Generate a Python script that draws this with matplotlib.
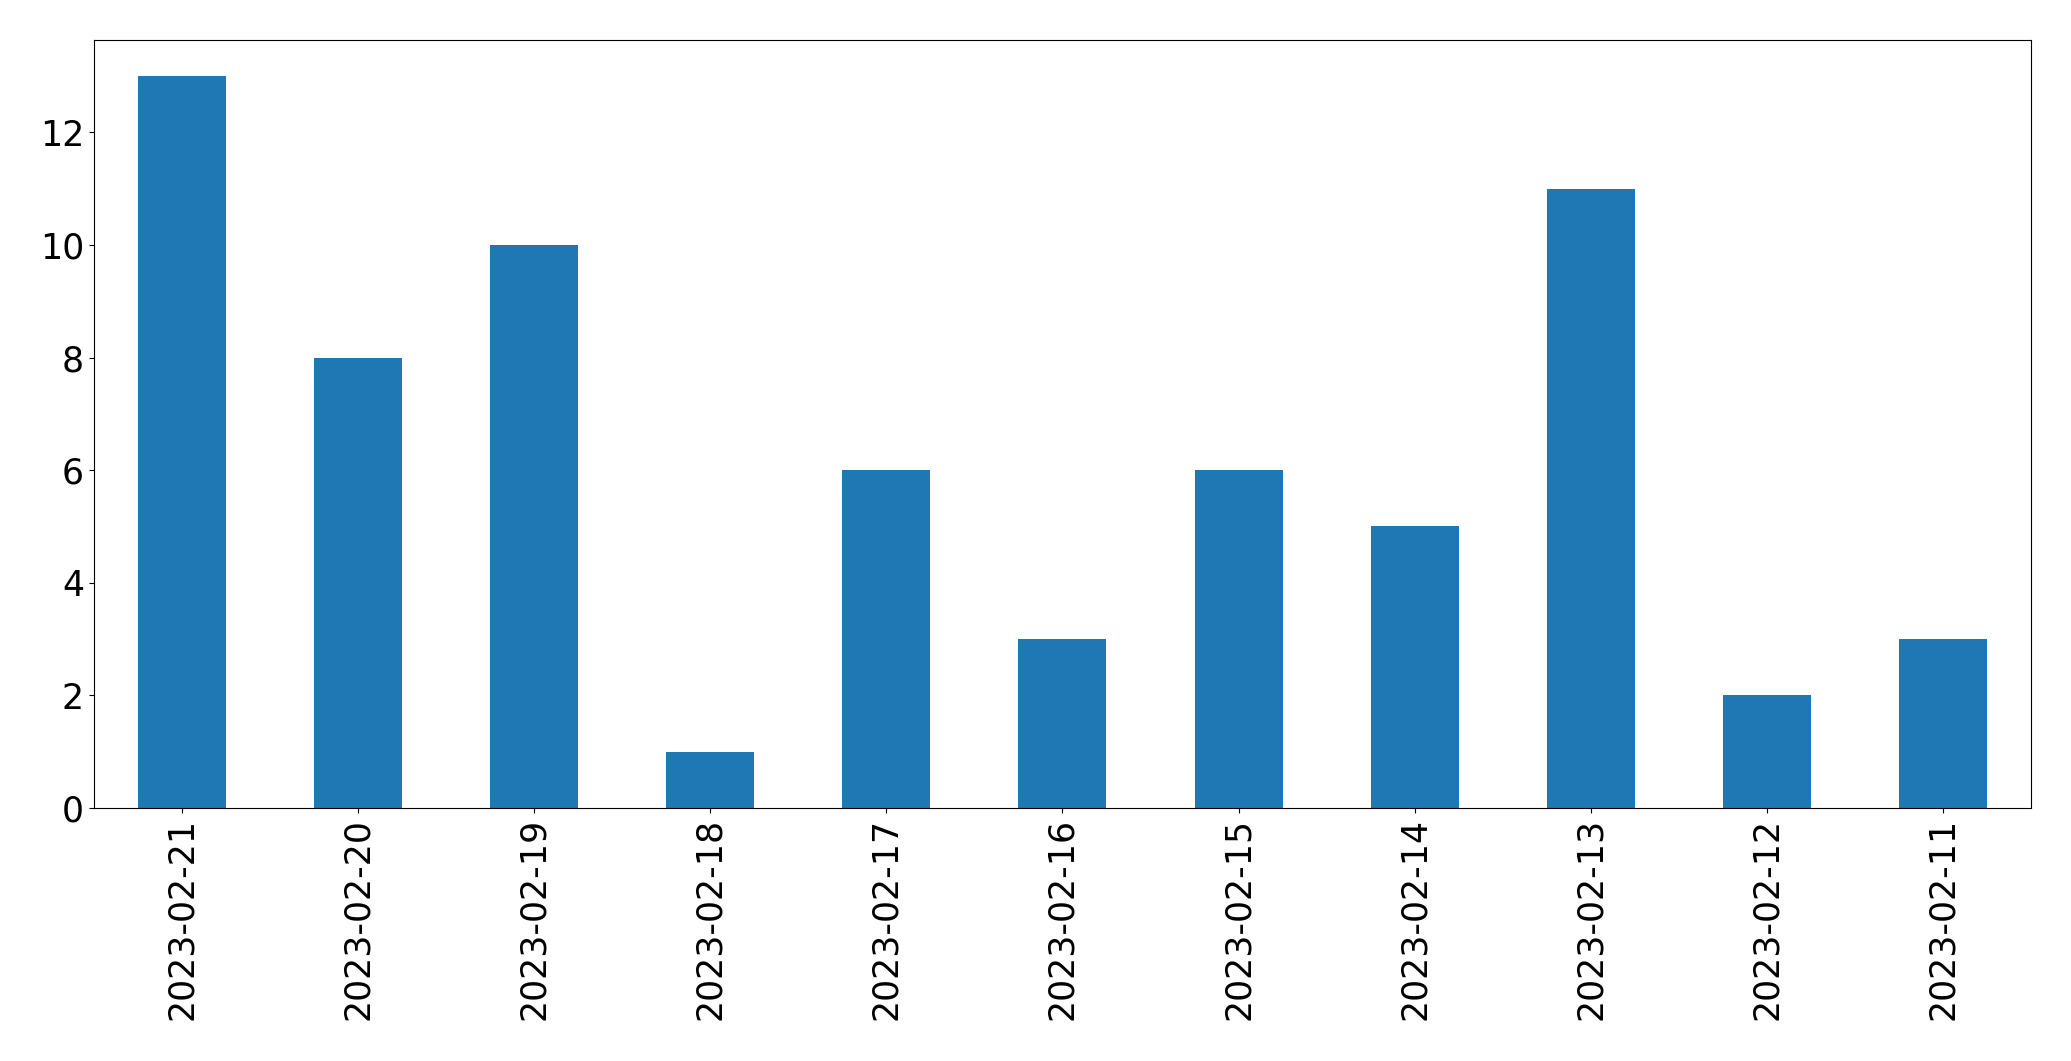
import matplotlib
matplotlib.use("Agg")
import matplotlib.pyplot as plt

dates = ["2023-02-21", "2023-02-20", "2023-02-19", "2023-02-18", "2023-02-17", "2023-02-16",
         "2023-02-15", "2023-02-14", "2023-02-13", "2023-02-12", "2023-02-11"]
counts = [13, 8, 10, 1, 6, 3, 6, 5, 11, 2, 3]

fig = plt.figure(figsize=(20.71, 10.61), dpi=100)
ax = fig.add_axes([0.0453, 0.2385, 0.9354, 0.7242])

x = range(len(dates))
ax.bar(x, counts, width=0.5, color="#1f77b4")
ax.set_xlim(-0.5, len(dates) - 0.5)
ax.set_ylim(0, max(counts) * 1.05)
ax.set_xticks(list(x))
ax.set_xticklabels(dates, rotation=90)
ax.tick_params(labelsize=25)

fig.savefig("out.png", dpi=100)
